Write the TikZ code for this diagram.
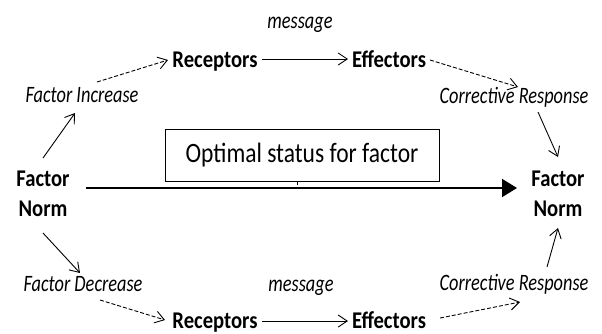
\documentclass[tikz,border=0pt]{standalone}
\usepackage{fontspec}
\setmainfont{Carlito}
\newfontfamily\blfont{Carlito}[FakeStretch=0.86]
\newfontfamily\itfont{Carlito}[FakeStretch=0.78]
\newfontfamily\boxfont{Carlito}[FakeStretch=0.84]
\usetikzlibrary{arrows.meta}
\tikzset{
  bl/.style={font=\blfont\fontsize{24}{30}\selectfont\bfseries, inner sep=0pt, anchor=base},
  il/.style={font=\itfont\fontsize{23.5}{26}\selectfont\itshape, inner sep=0pt, anchor=base},
  nl/.style={font=\blfont\fontsize{24}{30}\selectfont\bfseries, inner sep=0pt, align=center},
  arr/.style={line width=0.9pt, -{Straight Barb[length=9pt,width=12pt,line width=0.9pt]}},
  darr/.style={arr, dash pattern=on 4pt off 2pt},
  main/.style={line width=2pt, -{Triangle[length=15pt,width=18pt]}},
  statusbox/.style={draw, line width=0.8pt, fill=white, minimum width=274pt, minimum height=52pt, inner sep=0pt, font=\boxfont\fontsize{28}{30}\selectfont}
}
\begin{document}
\begin{tikzpicture}[x=1pt,y=-1pt]
\useasboundingbox[fill=white] (0,0) rectangle (602,333);
% nodes
\node[nl] (fnl) at (43,194) {Factor\\Norm};
\node[nl] (fnr) at (558,194) {Factor\\Norm};
\node[bl] (rt) at (215,67) {Receptors};
\node[bl] (et) at (389,67) {Effectors};
\node[bl] (rb) at (215,328) {Receptors};
\node[bl] (eb) at (389,328) {Effectors};
\node[il] (fi) at (82,102) {Factor Increase};
\node[il] (fd) at (83,291) {Factor Decrease};
\node[il] (crt) at (514,103) {Corrective Response};
\node[il] (crb) at (514,290) {Corrective Response};
\node[il] (msgt) at (300,28) {message};
\node[il] (msgb) at (301,291) {message};
% central arrow
\draw[main] ([shift={(43,-6)}]fnl.center) -- ([shift={(-41,-6)}]fnr.center);
\node[statusbox] (box) at (302,155) {Optimal status for factor};
\draw[line width=1pt] ([xshift=-5pt]box.south) -- ++(0,4);
% upper loop
\draw[arr] ([shift={(0,-36)}]fnl.center) -- ([shift={(-7,11)}]fi.base);
\draw[darr] ([shift={(15,-20)}]fi.base) -- ([shift={(-47,-7)}]rt.base);
\draw[arr] ([shift={(47,-8)}]rt.base) -- ([shift={(-41,-8)}]et.base);
\draw[darr] ([shift={(41,-7)}]et.base) -- ([shift={(4,-16)}]crt.base);
\draw[arr] ([shift={(24,9)}]crt.base) -- ([shift={(0,-37)}]fnr.center);
% lower loop
\draw[arr] ([shift={(0,39)}]fnl.center) -- ([shift={(-3,-18)}]fd.base);
\draw[darr] ([shift={(17,9)}]fd.base) -- ([shift={(-50,-8)}]rb.base);
\draw[arr] ([shift={(47,-7)}]rb.base) -- ([shift={(-41,-7)}]eb.base);
\draw[darr] ([shift={(51,-10)}]eb.base) -- ([shift={(6,12)}]crb.base);
\draw[arr] ([shift={(33,-23)}]crb.base) -- ([shift={(0,34)}]fnr.center);
\end{tikzpicture}
\end{document}
